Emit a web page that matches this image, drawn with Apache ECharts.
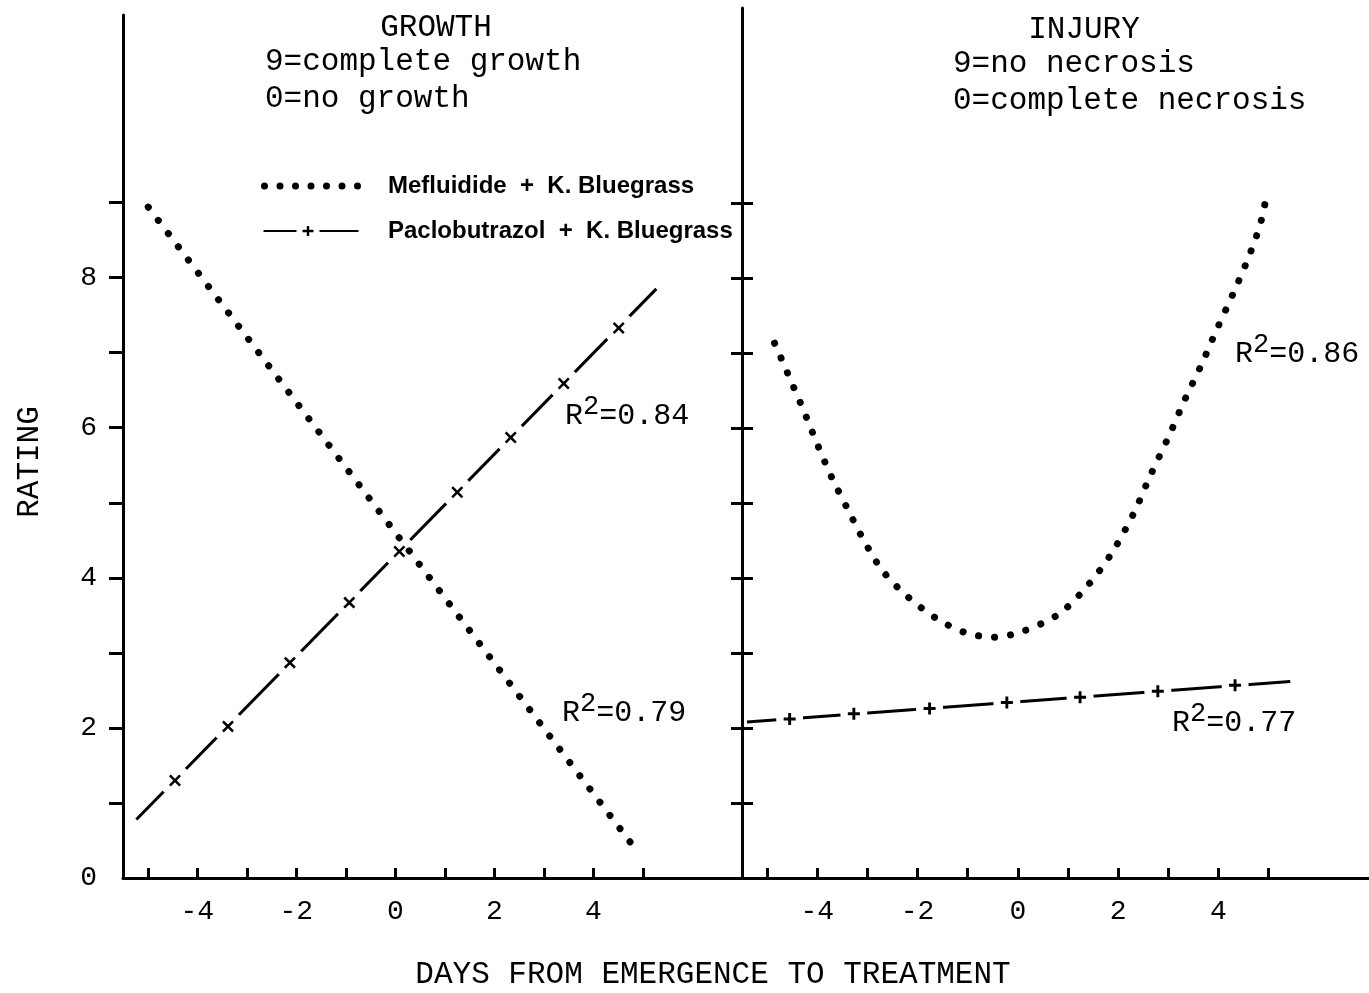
<!DOCTYPE html>
<html>
<head>
<meta charset="utf-8">
<script src="https://cdn.jsdelivr.net/npm/echarts@6/dist/echarts.min.js"></script>
<style>html,body{margin:0;padding:0;background:#fff}#c{width:1369px;height:993px}</style>
</head>
<body>
<div id="c"></div>
<script>
// ---------- data ----------
const MEF = 'Mefluidide + K. Bluegrass';
const PAC = 'Paclobutrazol + K. Bluegrass';

// GROWTH panel
const growthMefDays = [-4.99, 4.81];
const growthMefVals = [8.94, 0.42];
const growthPacDays = [-5.23, 5.27];
const growthPacVals = [0.78, 7.85];
const growthPacMarkDays = [-4.45, -3.38, -2.13, -0.93, 0.08, 1.25, 2.33, 3.40, 4.51];
const growthPacMarkVals = [1.30, 2.02, 2.87, 3.67, 4.35, 5.14, 5.87, 6.59, 7.33];

// INJURY panel
const injuryMefDays = [-4.85, -4.59, -4.27, -3.99, -3.71, -3.41, -3.07, -2.69, -2.18, -1.60, -1.04, -0.48, 0.10, 0.82, 1.38, 1.86, 2.30, 2.65, 3.01, 3.33, 3.65, 3.95, 4.29, 4.59, 4.83, 4.97];
const injuryMefVals = [7.13, 6.73, 6.23, 5.77, 5.34, 4.94, 4.50, 4.09, 3.74, 3.45, 3.27, 3.21, 3.29, 3.52, 3.89, 4.32, 4.85, 5.38, 5.89, 6.38, 6.83, 7.29, 7.79, 8.26, 8.71, 9.14];
const injuryPacDays = [-5.4, 5.43];
const injuryPacVals = [2.08, 2.62];
const injuryPacMarkDays = [-4.55, -3.27, -1.76, -0.22, 1.24, 2.79, 4.33];
const injuryPacMarkVals = [2.12, 2.19, 2.26, 2.34, 2.41, 2.49, 2.57];

// axis ticks / labels
const xTickValues = [-5, -4, -3, -2, -1, 0, 1, 2, 3, 4, 5];
const xLabelValues = [-4, -2, 0, 2, 4];
const yTickValues = [1, 2, 3, 4, 5, 6, 7, 8, 9];
const yLabelValues = [0, 2, 4, 6, 8];

const r2Labels = ['0.84', '0.79', '0.86', '0.77'];

// ---------- helpers ----------
const zip = (a, b) => a.map((v, i) => [v, b[i]]);
const MONO = '"Liberation Mono", "DejaVu Sans Mono", monospace';
const BLACK = '#000';

// legend icons
let dots = '';
for (let i = 0; i < 7; i++) { const cx = 3.5 + i * 15.5; dots += `M${cx - 3.5},3.5a3.5,3.5 0 1,0 7,0a3.5,3.5 0 1,0 -7,0Z`; }
const dotsIcon = 'path://' + dots;
const plusLineIcon = 'path://M0,4H33V6H0Z M39,3.8H50V6.2H39Z M43.3,0H45.7V10H43.3Z M56,4H95V6H56Z';
const xMark = 'path://M0,1.5L1.5,0L5,3.5L8.5,0L10,1.5L6.5,5L10,8.5L8.5,10L5,6.5L1.5,10L0,8.5L3.5,5Z';
const plusMark = 'path://M3.8,0H6.2V3.8H10V6.2H6.2V10H3.8V6.2H0V3.8H3.8Z';

function xAxis(gridIndex) {
  return {
    type: 'value', gridIndex, min: -5.5, max: 7,
    axisLine: { show: true, onZero: false, lineStyle: { color: BLACK, width: 3 } },
    axisTick: { show: true, inside: true, length: 10, lineStyle: { color: BLACK, width: 3 }, customValues: xTickValues },
    axisLabel: { show: true, customValues: xLabelValues, margin: 20, color: BLACK, fontFamily: MONO, fontSize: 28,
      formatter: v => (v < 0 ? '-' + Math.abs(v) : String(v)) },
    splitLine: { show: false }
  };
}

const option = {
  backgroundColor: '#fff',
  animation: false,
  grid: [
    { left: 123, width: 619, top: 15, bottom: 115 },
    { left: 742, right: 0, top: 8, bottom: 115 }
  ],
  xAxis: [xAxis(0), xAxis(1)],
  yAxis: [
    { type: 'value', gridIndex: 0, min: 0, max: 11.5, position: 'left',
      axisLine: { show: true, onZero: false, lineStyle: { color: BLACK, width: 3 } },
      axisTick: { show: true, inside: false, length: 14, lineStyle: { color: BLACK, width: 3 }, customValues: yTickValues },
      axisLabel: { show: true, customValues: yLabelValues, margin: 26, color: BLACK, fontFamily: MONO, fontSize: 28 },
      splitLine: { show: false } },
    { type: 'value', gridIndex: 1, min: 0, max: 11.6, position: 'left', offset: 0,
      axisLine: { show: true, onZero: false, lineStyle: { color: BLACK, width: 3 } },
      axisTick: { show: true, inside: false, length: 11, lineStyle: { color: BLACK, width: 3 }, customValues: yTickValues },
      axisLabel: { show: false }, splitLine: { show: false } },
    { type: 'value', gridIndex: 1, min: 0, max: 11.6, position: 'left', offset: 0,
      axisLine: { show: false, onZero: false },
      axisTick: { show: true, inside: true, length: 11, lineStyle: { color: BLACK, width: 3 }, customValues: yTickValues },
      axisLabel: { show: false }, splitLine: { show: false } }
  ],
  legend: {
    orient: 'vertical', left: 256, top: 169, itemWidth: 100, itemHeight: 10, itemGap: 21,
    selectedMode: false,
    itemStyle: { color: BLACK, borderWidth: 0 },
    formatter: name => name.replace(' + ', '  +  '),
    textStyle: { fontFamily: '"Liberation Sans", Arial, sans-serif', fontWeight: 'bold', fontSize: 24, color: BLACK, padding: [0, 0, 0, 22] },
    data: [{ name: MEF, icon: dotsIcon }, { name: PAC, icon: plusLineIcon }]
  },
  series: [
    // GROWTH
    { name: MEF, type: 'line', xAxisIndex: 0, yAxisIndex: 0, data: zip(growthMefDays, growthMefVals), symbol: 'none', z: 6,
      itemStyle: { color: BLACK }, lineStyle: { color: BLACK, width: 7, type: [0.1, 16.5], cap: 'round' } },
    { name: PAC, type: 'line', xAxisIndex: 0, yAxisIndex: 0, data: zip(growthPacDays, growthPacVals), symbol: 'none', z: 2,
      itemStyle: { color: BLACK }, lineStyle: { color: BLACK, width: 3 } },
    { name: 'gap1', type: 'scatter', xAxisIndex: 0, yAxisIndex: 0, data: zip(growthPacMarkDays, growthPacMarkVals), symbol: 'circle', symbolSize: 32, z: 3, silent: true,
      itemStyle: { color: '#fff', opacity: 1 } },
    { name: 'mark1', type: 'scatter', xAxisIndex: 0, yAxisIndex: 0, data: zip(growthPacMarkDays, growthPacMarkVals), symbol: xMark, symbolSize: 12, z: 4,
      itemStyle: { color: BLACK, opacity: 1 } },
    // INJURY
    { name: MEF, type: 'line', xAxisIndex: 1, yAxisIndex: 1, data: zip(injuryMefDays, injuryMefVals), symbol: 'none', smooth: 0.3, z: 6,
      itemStyle: { color: BLACK }, lineStyle: { color: BLACK, width: 7, type: [0.1, 16], cap: 'round' } },
    { name: PAC, type: 'line', xAxisIndex: 1, yAxisIndex: 1, data: zip(injuryPacDays, injuryPacVals), symbol: 'none', z: 2,
      itemStyle: { color: BLACK }, lineStyle: { color: BLACK, width: 3 } },
    { name: 'gap2', type: 'scatter', xAxisIndex: 1, yAxisIndex: 1, data: zip(injuryPacMarkDays, injuryPacMarkVals), symbol: 'circle', symbolSize: 27, z: 3, silent: true,
      itemStyle: { color: '#fff', opacity: 1 } },
    { name: 'mark2', type: 'scatter', xAxisIndex: 1, yAxisIndex: 1, data: zip(injuryPacMarkDays, injuryPacMarkVals), symbol: plusMark, symbolSize: 12, z: 4,
      itemStyle: { color: BLACK, opacity: 1 } }
  ],
  graphic: []
};

const T = (text, x, y, align, extra) => Object.assign({
  type: 'text', x, y, silent: true,
  style: { text, fill: BLACK, font: '31px ' + MONO, textAlign: align || 'left', textVerticalAlign: 'middle' }
}, extra || {});

const r2 = (val, x, y) => ({
  type: 'text', x, y, silent: true,
  style: {
    text: `{a|R}{s|2}{a|=${val}}`, fill: BLACK, textAlign: 'left', textVerticalAlign: 'middle',
    rich: {
      a: { fontFamily: MONO, fontSize: 30, lineHeight: 38, verticalAlign: 'bottom', fill: BLACK },
      s: { fontFamily: MONO, fontSize: 27, lineHeight: 24, verticalAlign: 'top', fill: BLACK }
    }
  }
});

option.graphic = [
  T('GROWTH', 436, 28, 'center'),
  T('9=complete growth', 265, 62),
  T('0=no growth', 265, 99),
  T('INJURY', 1084, 30, 'center'),
  T('9=no necrosis', 953, 64),
  T('0=complete necrosis', 953, 101),
  T('DAYS FROM EMERGENCE TO TREATMENT', 713, 975, 'center'),
  T('RATING', 30, 462, 'center', { rotation: Math.PI / 2 }),
  r2(r2Labels[0], 565, 412),
  r2(r2Labels[1], 562, 709),
  r2(r2Labels[2], 1235, 350),
  r2(r2Labels[3], 1172, 719)
];

const chart = echarts.init(document.getElementById('c'), null, { renderer: 'canvas' });
chart.setOption(option);
</script>
</body>
</html>
